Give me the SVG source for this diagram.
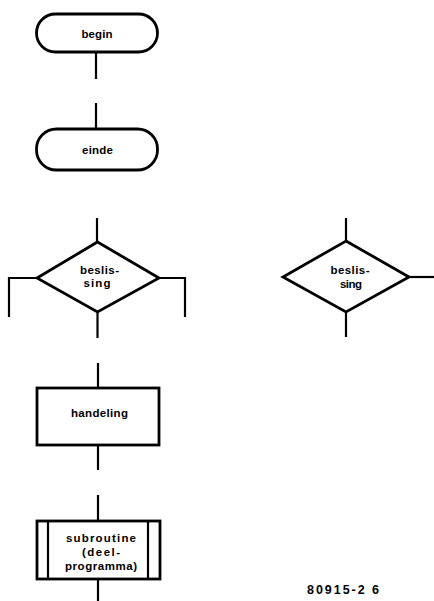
<svg xmlns="http://www.w3.org/2000/svg" width="434" height="601" viewBox="0 0 434 601">
<style>
.shape{fill:#fff;stroke:#000;stroke-width:2.8;stroke-linejoin:miter}
.ln{fill:none;stroke:#000;stroke-width:2.2}
.t{font-family:"Liberation Sans",Arial,sans-serif;font-weight:bold;font-size:11.5px;fill:#000;text-anchor:middle}
.lbl{font-size:12.5px;text-anchor:start}
</style>
<rect width="434" height="601" fill="#fff"/>
<g id="connectors">
<line class="ln" x1="96" y1="52" x2="96" y2="79"/>
<line class="ln" x1="96" y1="103" x2="96" y2="129"/>
<line class="ln" x1="97" y1="218" x2="97" y2="242"/>
<polyline class="ln" points="37,278 9,278 9,317"/>
<polyline class="ln" points="159,278 185,278 185,317"/>
<line class="ln" x1="97.5" y1="312" x2="97.5" y2="338"/>
<line class="ln" x1="346" y1="218" x2="346" y2="241"/>
<line class="ln" x1="409" y1="277" x2="434" y2="277"/>
<line class="ln" x1="346" y1="312" x2="346" y2="337"/>
<line class="ln" x1="98" y1="363" x2="98" y2="387"/>
<line class="ln" x1="98" y1="445" x2="98" y2="470"/>
<line class="ln" x1="98" y1="495" x2="98" y2="520"/>
<line class="ln" x1="98" y1="579" x2="98" y2="601"/>
</g>
<g id="begin">
<rect class="shape" x="36.5" y="14" width="121" height="38" rx="19"/>
<text class="t" x="97" y="38" textLength="31" lengthAdjust="spacing">begin</text>
</g>
<g id="einde">
<rect class="shape" x="36.5" y="129" width="121" height="41" rx="20"/>
<text class="t" x="97.5" y="154" textLength="31" lengthAdjust="spacing">einde</text>
</g>
<g id="beslissing1">
<polygon class="shape" points="97.5,242 159,278 97.5,312 37,278"/>
<text class="t" x="99.5" y="274" textLength="39" lengthAdjust="spacing">beslis-</text>
<text class="t" x="97" y="287" textLength="27" lengthAdjust="spacing">sing</text>
</g>
<g id="beslissing2">
<polygon class="shape" points="346,241 409,277 346,312 283,277"/>
<text class="t" x="350" y="274" textLength="39" lengthAdjust="spacing">beslis-</text>
<text class="t" x="351" y="288" textLength="22" lengthAdjust="spacing">sing</text>
</g>
<g id="handeling">
<rect class="shape" x="37" y="388" width="122" height="57"/>
<text class="t" x="99.5" y="417" textLength="57" lengthAdjust="spacing">handeling</text>
</g>
<g id="subroutine">
<rect class="shape" x="37" y="521" width="123" height="58"/>
<line class="ln" x1="48" y1="521" x2="48" y2="579"/>
<line class="ln" x1="148" y1="521" x2="148" y2="579"/>
<text class="t" x="101" y="542" textLength="70" lengthAdjust="spacing">subroutine</text>
<text class="t" x="101" y="556" textLength="38" lengthAdjust="spacing">(deel-</text>
<text class="t" x="101" y="570" textLength="72" lengthAdjust="spacing">programma)</text>
</g>
<g id="label">
<text class="t lbl" x="307" y="594" textLength="72" lengthAdjust="spacing">80915-2 6</text>
</g>
</svg>
